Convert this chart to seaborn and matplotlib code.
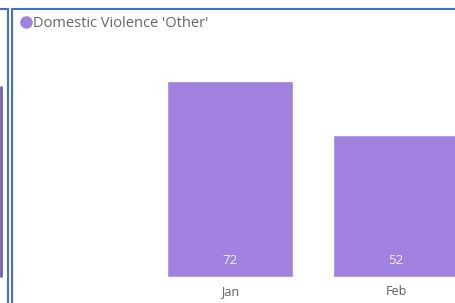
import matplotlib
matplotlib.use("Agg")
import matplotlib.pyplot as plt
import seaborn as sns
import pandas as pd
from matplotlib.lines import Line2D

# data
months = ["Jan", "Feb"]
counts = [72, 52]
series_name = "Domestic Violence 'Other'"

bar_color = "#A081E0"
text_gray = "#605E5C"
border_blue = "#4470CC"

sns.set_theme(style="white")
plt.rcParams['font.family'] = ['Open Sans', 'DejaVu Sans']

df = pd.DataFrame({"month": months, "count": counts})

W, H = 456, 303
fig = plt.figure(figsize=(W / 100, H / 100), dpi=100)

# axes covering full width; category pitch 166px, Jan centred at 230px
pitch = 166.0
x0 = 230.0
base_px = 277.0
top_px = 9.0
ax = fig.add_axes([0, (H - base_px) / H, 1, (base_px - top_px) / H])

sns.barplot(data=df, x="month", y="count", color=bar_color, width=126 / pitch,
            saturation=1, ax=ax)

ax.set_xlim(-x0 / pitch, (W - x0) / pitch)
ax.set_ylim(0, 72 * (base_px - top_px) / (base_px - 81))
ax.set_xlabel("")
ax.set_ylabel("")
ax.set_yticks([])
for s in ax.spines.values():
    s.set_visible(False)
ax.patch.set_alpha(0)
ax.tick_params(axis="x", length=0, pad=6, labelsize=9, labelcolor=text_gray)

# value labels near bar base
for p, v in zip(ax.patches, counts):
    ax.annotate(str(v), (p.get_x() + p.get_width() / 2, 0), xytext=(0, 12),
                textcoords="offset points", ha="center", va="center",
                color="#F4F0FF", fontsize=9.5)

# legend
handle = Line2D([], [], marker="o", linestyle="", color=bar_color, markersize=8)
fig.legend([handle], [series_name], loc="center left",
           bbox_to_anchor=(21 / W, 1 - 23.5 / H), frameon=False,
           handlelength=0.7, handletextpad=0.12, borderpad=0, borderaxespad=0,
           fontsize=10.5, labelcolor="#666666")

# panel borders (report frame decorations)
def px_line(xs, ys, color, lw):
    fig.add_artist(Line2D([x / W for x in xs], [1 - y / H for y in ys],
                          color=color, linewidth=lw, transform=fig.transFigure))

px_line([1, 1], [87, 276], "#6B5FB5", 2.0)
px_line([0, 8], [9, 9], border_blue, 1.5)
px_line([8, 8], [9, 303], border_blue, 1.5)
px_line([12.5, 456], [9, 9], border_blue, 1.5)
px_line([12.5, 12.5], [9, 303], border_blue, 1.5)

fig.savefig("out.png", dpi=100)
